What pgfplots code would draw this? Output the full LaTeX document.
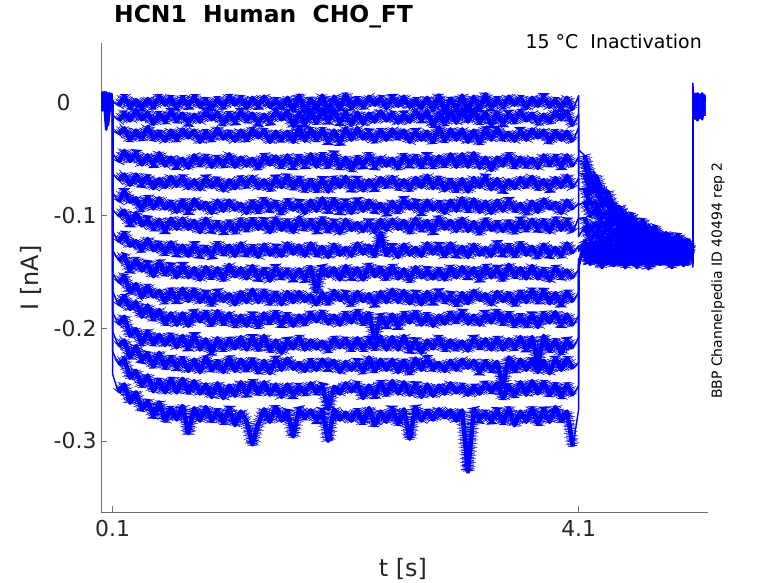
\documentclass[border=0pt]{standalone}
\usepackage{fontspec}
\setmainfont{DejaVu Sans}
\usepackage{pgfplots}
\usepackage{pgfplotstable}
\pgfplotsset{compat=1.18}
% currents in pA (1 nA = 1000 pA), times in s
\pgfplotstableread{
t y1 y2 y3 y4 y5 y6 y7 y8 y9 y10 y11 y12 y13 y14 y15
0.000 3 -5 6 -2 8 -4 1 -6 5 -3 7 -1 4 -5 2
0.015 -6 7 -3 9 -5 4 -7 6 -2 8 -4 5 -6 3 -7
0.030 8 -4 5 -6 3 -7 9 -3 6 -5 2 -6 7 -4 5
0.045 -3 6 -7 4 -6 8 -4 7 -5 3 -6 9 -2 -24 -4
0.060 5 -7 3 -5 7 -3 6 -5 4 -7 8 -4 5 -5 -20
0.075 -5 4 -6 8 -2 5 -7 3 -6 6 -5 2 -7 4 -6
0.090 6 -3 7 -4 5 -6 3 -7 8 -2 6 -5 4 -6 7
0.100 0 -2 1 -1 2 0 -1 1 -2 0 1 -1 0 2 -1
0.100 1 -11 -25 -45 -63 -80 -95 -114 -131 -151 -167 -186 -203 -221 -241
0.15 -3 -16 -28 -53 -69 -88 -101 -124 -140 -160 -180 -197 -216 -232 -257
0.20 5 -10 -23 -43 -64 -79 -96 -116 -136 -154 -172 -190 -211 -228 -250
0.25 -4 -16 -33 -52 -73 -88 -108 -127 -149 -168 -183 -207 -226 -244 -266
0.30 2 -7 -25 -45 -64 -85 -98 -123 -139 -161 -177 -201 -216 -238 -257
0.35 -5 -15 -32 -55 -72 -95 -109 -131 -149 -173 -190 -214 -228 -251 -272
0.40 3 -9 -22 -47 -66 -84 -104 -121 -143 -163 -180 -203 -223 -242 -265
0.45 -4 -19 -32 -55 -76 -94 -112 -131 -154 -172 -192 -214 -234 -256 -278
0.50 5 -10 -27 -45 -68 -85 -104 -125 -141 -167 -184 -206 -222 -246 -266
0.55 -2 -17 -34 -56 -75 -94 -114 -134 -152 -177 -196 -215 -235 -257 -282
0.60 4 -8 -25 -49 -66 -89 -103 -124 -145 -166 -187 -206 -226 -245 -271
0.65 -5 -16 -33 -56 -74 -97 -112 -134 -155 -176 -197 -217 -235 -257 -281
0.70 4 -10 -24 -50 -66 -87 -103 -127 -144 -165 -187 -207 -227 -245 -269
0.75 -3 -18 -31 -58 -76 -97 -112 -136 -155 -176 -198 -218 -238 -257 -293
0.80 5 -11 -25 -47 -69 -86 -105 -126 -147 -166 -186 -206 -228 -247 -271
0.85 -4 -17 -35 -55 -77 -94 -115 -135 -157 -177 -194 -219 -239 -258 -282
0.90 2 -8 -26 -48 -67 -89 -103 -129 -146 -169 -186 -210 -226 -250 -270
0.95 -5 -15 -33 -57 -75 -98 -113 -136 -155 -179 -197 -222 -237 -261 -282
1.00 3 -9 -23 -49 -68 -87 -107 -125 -147 -168 -185 -209 -230 -249 -273
1.05 -4 -19 -32 -56 -78 -96 -114 -134 -157 -176 -196 -219 -239 -262 -284
1.10 5 -10 -27 -46 -69 -87 -106 -127 -144 -170 -187 -210 -226 -251 -271
1.15 -2 -17 -34 -57 -76 -95 -115 -136 -154 -179 -198 -218 -238 -260 -286
1.20 4 -8 -25 -49 -67 -90 -104 -125 -147 -168 -189 -208 -228 -248 -274
1.25 -5 -16 -33 -56 -74 -98 -113 -135 -156 -177 -198 -219 -237 -259 -283
1.30 4 -10 -24 -50 -66 -88 -104 -128 -145 -166 -188 -208 -228 -247 -303
1.35 -3 -18 -31 -58 -76 -97 -112 -137 -156 -177 -199 -219 -239 -258 -285
1.40 5 -11 -25 -47 -69 -86 -105 -126 -148 -167 -187 -207 -229 -248 -272
1.45 -4 -17 -35 -55 -77 -94 -115 -135 -158 -178 -195 -220 -240 -259 -283
1.50 2 -8 -26 -48 -67 -89 -103 -129 -146 -169 -186 -211 -227 -250 -270
1.55 -5 -15 -33 -57 -75 -98 -113 -136 -155 -179 -197 -222 -237 -261 -282
1.60 4 -8 -26 -47 -65 -87 -105 -125 -149 -168 -188 -211 -227 -250 -274
1.65 -7 -21 -35 -57 -76 -95 -115 -134 -156 -177 -198 -218 -236 -260 -296
1.70 6 -10 -22 -48 -67 -89 -102 -127 -148 -168 -189 -208 -231 -251 -272
1.75 -9 -19 -34 -56 -78 -98 -112 -136 -157 -176 -196 -219 -238 -258 -279
1.80 3 -7 -24 -46 -69 -87 -105 -125 -146 -171 -187 -211 -229 -249 -273
1.85 -6 -18 -33 -57 -78 -96 -114 -135 -168 -179 -194 -218 -237 -257 -282
1.90 6 -6 -24 -46 -68 -85 -103 -128 -146 -169 -186 -212 -228 -251 -273
1.95 -8 -17 -35 -57 -79 -96 -114 -137 -154 -178 -196 -220 -235 -272 -300
2.00 5 -7 -25 -45 -67 -86 -106 -126 -147 -167 -189 -209 -229 -252 -272
2.05 -6 -18 -36 -58 -75 -97 -116 -135 -157 -175 -197 -217 -239 -258 -281
2.10 7 -9 -23 -49 -66 -88 -104 -129 -145 -170 -187 -210 -230 -249 -275
2.15 -5 -20 -33 -60 -77 -98 -113 -136 -155 -179 -195 -219 -237 -256 -282
2.20 3 -9 -23 -49 -68 -87 -107 -125 -147 -168 -185 -209 -230 -249 -273
2.25 -4 -19 -32 -56 -78 -96 -114 -134 -157 -176 -196 -219 -239 -262 -284
2.30 5 -10 -27 -46 -69 -87 -106 -127 -144 -170 -187 -210 -226 -251 -271
2.35 -2 -17 -34 -57 -76 -95 -115 -136 -154 -179 -210 -218 -238 -260 -286
2.40 4 -8 -25 -49 -67 -90 -104 -116 -147 -168 -189 -208 -228 -248 -274
2.45 -5 -16 -33 -56 -74 -98 -113 -135 -156 -177 -198 -219 -237 -259 -283
2.50 4 -10 -24 -50 -66 -88 -104 -128 -145 -166 -188 -208 -228 -247 -271
2.55 -3 -18 -31 -58 -76 -97 -112 -137 -156 -177 -199 -219 -239 -258 -285
2.60 5 -11 -25 -47 -69 -86 -105 -126 -148 -167 -187 -207 -229 -248 -272
2.65 -4 -17 -35 -55 -77 -94 -115 -135 -158 -178 -195 -220 -240 -259 -298
2.70 2 -8 -26 -48 -67 -89 -103 -129 -146 -169 -186 -211 -227 -250 -270
2.75 -5 -15 -33 -57 -75 -98 -113 -136 -155 -179 -197 -222 -237 -261 -282
2.80 4 -8 -26 -47 -65 -87 -105 -125 -149 -168 -188 -211 -227 -250 -274
2.85 -7 -21 -35 -57 -76 -95 -115 -134 -156 -177 -198 -218 -236 -260 -281
2.90 6 -10 -22 -48 -67 -89 -102 -127 -148 -168 -189 -208 -231 -251 -272
2.95 -9 -19 -34 -56 -78 -98 -112 -136 -157 -176 -196 -219 -238 -258 -279
3.00 3 -7 -24 -46 -69 -87 -105 -125 -146 -171 -187 -211 -229 -249 -273
3.05 -6 -18 -33 -57 -78 -96 -114 -135 -155 -179 -194 -218 -237 -257 -282
3.10 6 -6 -24 -46 -68 -85 -103 -128 -146 -169 -186 -212 -228 -251 -273
3.15 -8 -17 -35 -57 -79 -96 -114 -137 -154 -178 -196 -220 -235 -259 -327
3.20 5 -7 -25 -45 -67 -86 -106 -126 -147 -167 -189 -209 -229 -252 -272
3.25 -6 -18 -36 -58 -75 -97 -116 -135 -157 -175 -197 -217 -239 -258 -281
3.30 7 -9 -23 -49 -66 -88 -104 -129 -145 -170 -187 -210 -230 -249 -275
3.35 -5 -20 -33 -60 -77 -98 -113 -136 -155 -179 -195 -219 -237 -256 -282
3.40 3 -9 -23 -49 -68 -87 -107 -125 -147 -168 -185 -209 -230 -249 -273
3.45 -4 -19 -32 -56 -78 -96 -114 -134 -157 -176 -196 -219 -252 -262 -284
3.50 5 -10 -27 -46 -69 -87 -106 -127 -144 -170 -187 -210 -226 -251 -271
3.55 -2 -17 -34 -57 -76 -95 -115 -136 -154 -179 -198 -218 -238 -260 -286
3.60 4 -8 -25 -49 -67 -90 -104 -125 -147 -168 -189 -208 -228 -248 -274
3.65 -5 -16 -33 -56 -74 -98 -113 -135 -156 -177 -198 -219 -237 -259 -283
3.70 4 -10 -24 -50 -66 -88 -104 -128 -145 -166 -188 -208 -228 -247 -271
3.75 -3 -18 -31 -58 -76 -97 -112 -137 -156 -177 -199 -232 -239 -258 -285
3.80 5 -11 -25 -47 -69 -86 -105 -126 -148 -167 -187 -207 -229 -248 -272
3.85 -4 -17 -35 -55 -77 -94 -115 -135 -158 -178 -195 -220 -240 -259 -283
3.90 2 -8 -26 -48 -67 -89 -103 -129 -146 -169 -186 -211 -227 -250 -270
3.95 -5 -15 -33 -57 -75 -98 -113 -136 -155 -179 -197 -222 -237 -261 -282
4.00 4 -8 -26 -47 -65 -87 -105 -125 -149 -168 -188 -211 -227 -250 -274
4.05 -7 -21 -35 -57 -76 -95 -115 -134 -156 -177 -198 -218 -236 -260 -305
4.10 6 -10 -22 -48 -67 -89 -102 -127 -148 -168 -189 -208 -231 -251 -272
4.10 -42 -52 -63 -77 -91 -103 -119 -132 -139 -143 -143 -140 -142 -143 -147
4.15 -47 -53 -63 -76 -88 -102 -110 -122 -128 -126 -129 -125 -126 -125 -129
4.20 -66 -70 -79 -90 -99 -114 -122 -133 -142 -140 -143 -142 -140 -142 -143
4.25 -65 -72 -77 -89 -96 -107 -115 -126 -125 -124 -128 -125 -126 -124 -125
4.30 -80 -87 -90 -102 -109 -118 -124 -136 -142 -140 -144 -142 -143 -140 -146
4.35 -79 -86 -89 -96 -106 -110 -119 -125 -129 -125 -126 -124 -128 -125 -126
4.40 -94 -97 -104 -108 -117 -120 -130 -135 -144 -142 -139 -143 -144 -142 -143
4.45 -93 -93 -99 -104 -109 -117 -119 -129 -126 -128 -125 -129 -125 -128 -124
4.50 -104 -104 -110 -116 -120 -127 -130 -136 -140 -143 -142 -146 -140 -144 -142
4.55 -100 -102 -103 -111 -115 -118 -125 -126 -128 -126 -124 -126 -129 -126 -128
4.60 -111 -115 -115 -120 -127 -128 -133 -135 -143 -139 -140 -142 -143 -146 -144
4.65 -105 -109 -113 -112 -119 -120 -126 -128 -124 -129 -126 -128 -124 -129 -125
4.70 -115 -119 -122 -125 -128 -129 -135 -138 -139 -143 -143 -140 -142 -143 -147
4.75 -111 -112 -115 -119 -120 -125 -125 -127 -128 -126 -129 -125 -126 -125 -129
4.80 -123 -122 -125 -127 -128 -134 -134 -137 -142 -140 -143 -142 -140 -142 -143
4.85 -116 -118 -117 -123 -121 -125 -126 -130 -125 -124 -128 -125 -126 -124 -125
4.90 -124 -127 -126 -132 -132 -134 -134 -139 -142 -140 -144 -142 -143 -140 -146
4.95 -118 -122 -121 -122 -125 -124 -127 -128 -129 -125 -126 -124 -128 -125 -126
5.00 -128 -129 -132 -130 -134 -132 -138 -137 -144 -142 -139 -143 -144 -142 -143
5.05 -123 -121 -124 -124 -125 -128 -126 -131 -126 -128 -125 -129 -125 -128 -124
5.08 -131 -129 -131 -134 -133 -137 -136 -138 -140 -143 -142 -146 -140 -144 -142
5.08 17 5 -2 3 -8 6 0 -10 4 -5 2 -12 7 -3 1
5.10 -12 6 -4 8 -15 3 -9 5 -6 7 -14 2 -8 6 -11
5.12 5 -13 7 -6 4 -16 6 -7 8 -12 5 -9 3 -15 6
5.14 -9 4 -14 6 -7 5 -12 7 -10 3 -8 6 -13 4 -6
5.16 6 -10 3 -13 7 -8 4 -15 5 -9 7 -11 4 -7 8
5.18 -4 5 -9 2 -6 7 -10 3 -12 5 -5 4 -8 6 -3
}\data
\definecolor{axgray}{RGB}{110,110,110}
\definecolor{txt}{RGB}{38,38,38}
\pgfplotsset{
  thin/.style={blue, line width=1.4bp, line join=round},
  core/.style={blue, line width=4.6bp, line join=round, unbounded coords=jump},
  edge/.style={blue, line width=2.6bp, line join=round, unbounded coords=jump},
  fuzzA/.style={blue, line width=10bp, line join=bevel, dash pattern=on 0.6bp off 1.1bp, unbounded coords=jump},
  fuzzB/.style={blue, line width=14bp, line join=bevel, dash pattern=on 0.5bp off 3.3bp, unbounded coords=jump},
}
\begin{document}
\begin{tikzpicture}
\begin{axis}[
  at={(101bp,71bp)}, anchor=south west,
  scale only axis, width=607bp, height=469.3bp,
  xmin=0, xmax=5.21, ymin=-363, ymax=52.9,
  axis x line*=bottom, axis y line*=left,
  axis line style={axgray, line width=0.7bp},
  tick style={axgray, line width=0.7bp},
  tick align=inside, major tick length=6bp,
  xtick={0.1,4.1}, xticklabels={0.1,4.1},
  ytick={-300,-200,-100,0},
  yticklabels={-0.3,-0.2,-0.1,0\hspace*{26bp}},
  ticklabel style={font=\fontsize{22}{22}\selectfont, text=txt},
  xticklabel style={yshift=-5bp},
  yticklabel style={anchor=east, xshift=-1bp},
  clip=true,
]
\pgfplotsinvokeforeach{1,...,15}{
  \addplot[thin] table[x=t, y=y#1] {\data};
  \addplot[edge, restrict x to domain=0:0.095] table[x=t, y=y#1] {\data};
  \addplot[edge, restrict x to domain=5.09:5.2] table[x=t, y=y#1] {\data};
  \addplot[core, restrict x to domain=0.13:4.08] table[x=t, y=y#1] {\data};
  \addplot[core, restrict x to domain=4.13:5.06] table[x=t, y=y#1] {\data};
  \addplot[fuzzA, restrict x to domain=0.13:4.08] table[x=t, y=y#1] {\data};
  \addplot[fuzzB, restrict x to domain=0.13:4.08] table[x=t, y=y#1] {\data};
  \addplot[fuzzA, restrict x to domain=4.13:5.06] table[x=t, y=y#1] {\data};
  \addplot[fuzzB, restrict x to domain=4.13:5.06] table[x=t, y=y#1] {\data};
}
\end{axis}
\node[inner sep=0pt, anchor=base west, font=\fontsize{23.5}{23.5}\selectfont\bfseries] at (114bp,560.6bp) {HCN1~~Human~~CHO\_FT};
\node[inner sep=0pt, anchor=base east, font=\fontsize{19}{19}\selectfont, text=black] at (702bp,534.7bp) {15 °C~~Inactivation};
\node[rotate=90, font=\fontsize{14}{14}\selectfont, text=black] at (718bp,302.5bp) {BBP Channelpedia ID 40494 rep 2};
\node[rotate=90, font=\fontsize{24}{24}\selectfont, text=txt] at (31bp,305bp) {I [nA]};
\node[font=\fontsize{24}{24}\selectfont, text=txt] at (403bp,14bp) {t [s]};
\pgfresetboundingbox
\path (0,0) rectangle (778bp,583bp);
\end{tikzpicture}
\end{document}
